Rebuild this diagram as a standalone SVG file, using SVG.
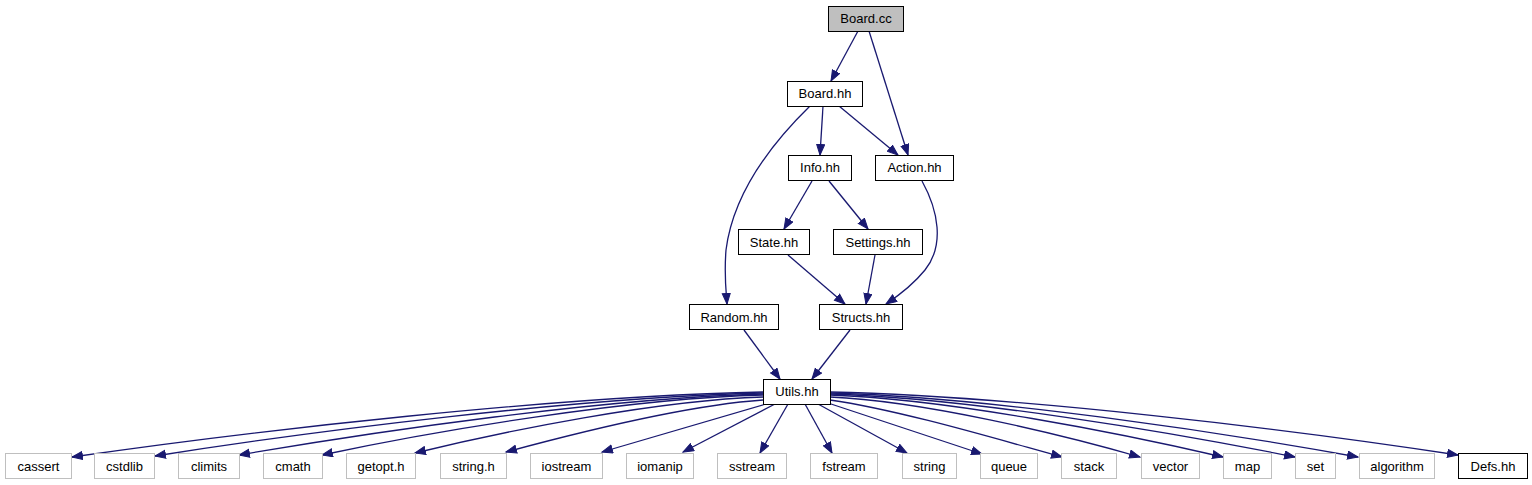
<svg xmlns="http://www.w3.org/2000/svg" width="1532" height="485" viewBox="0 0 1532 485">
<style>
.n rect{fill:#fff;stroke:#000;stroke-width:1}
.x rect{fill:#fff;stroke:#bfbfbf;stroke-width:1}
.r rect{fill:#bfbfbf;stroke:#000;stroke-width:1}
text{font-family:"Liberation Sans",Arial,sans-serif;font-size:13px;fill:#000;text-anchor:middle}
.e path{fill:none;stroke:#191970;stroke-width:1.3;marker-end:url(#ah)}
</style>
<defs>
<marker id="ah" markerUnits="userSpaceOnUse" markerWidth="13" markerHeight="10" refX="11" refY="4.5" orient="auto">
<path d="M0.5,0.5 L11,4.5 L0.5,8.5 z" fill="#191970" stroke="#191970" stroke-width="1"/>
</marker>
</defs>
<rect width="1532" height="485" fill="#fff"/>
<g id="edges" class="e">
<path d="M858,31 L831,81"/>
<path d="M869,31 L908,155"/>
<path d="M823,106 L820,155"/>
<path d="M839,106 L898,155"/>
<path d="M810,106 C770,145 733,195 726,250 C724,275 726,290 727,304"/>
<path d="M812,181 L784,229"/>
<path d="M829,181 L868,229"/>
<path d="M922,181 C938,210 945,245 925,270 C912,286 898,296 886,304"/>
<path d="M788,255 L845,304"/>
<path d="M875,255 L866,304"/>
<path d="M744,330 L780,379"/>
<path d="M850,330 L812,379"/>
<path d="M763,392 C556,396 252,431 72,457"/>
<path d="M763,393 C581,397 313,431 155,456"/>
<path d="M763,394 C606,398 379,431 239,455"/>
<path d="M763,395 C631,398 434,431 322,455"/>
<path d="M763,397 C659,400 505,431 415,453"/>
<path d="M763,400 C690,405 580,432 506,452"/>
<path d="M766,404 L602,452"/>
<path d="M775,404 L683,452"/>
<path d="M788,404 L760,453"/>
<path d="M805,404 L832,453"/>
<path d="M818,404 L907,453"/>
<path d="M828,403 L982,454"/>
<path d="M830,400 C900,410 1000,440 1062,457"/>
<path d="M830,397 C923,401 1060,434 1140,457"/>
<path d="M830,395 C948,399 1120,433 1223,457"/>
<path d="M830,394 C969,398 1170,432 1295,457"/>
<path d="M830,393 C988,397 1220,432 1358,457"/>
<path d="M830,392 C1018,396 1295,430 1458,455"/>
</g>
<g id="n_boardcc" class="r"><rect x="828.5" y="6.5" width="75" height="25"/><text x="866" y="23">Board.cc</text></g>
<g id="n_boardhh" class="n"><rect x="787.5" y="81.5" width="75" height="25"/><text x="825" y="98">Board.hh</text></g>
<g id="n_infohh" class="n"><rect x="788.5" y="155.5" width="63" height="25"/><text x="820" y="172">Info.hh</text></g>
<g id="n_actionhh" class="n"><rect x="875.5" y="155.5" width="78" height="25"/><text x="914.5" y="172">Action.hh</text></g>
<g id="n_statehh" class="n"><rect x="738.5" y="229.5" width="71" height="25"/><text x="774" y="246.5">State.hh</text></g>
<g id="n_settingshh" class="n"><rect x="833.5" y="229.5" width="89" height="25"/><text x="878" y="246.5">Settings.hh</text></g>
<g id="n_randomhh" class="n"><rect x="689.5" y="304.5" width="89" height="25"/><text x="734" y="321.5">Random.hh</text></g>
<g id="n_structshh" class="n"><rect x="819.5" y="304.5" width="83" height="25"/><text x="861" y="321.5">Structs.hh</text></g>
<g id="n_utilshh" class="n"><rect x="763.5" y="379.5" width="67" height="25"/><text x="797" y="396">Utils.hh</text></g>
<g id="n_cassert" class="x"><rect x="5.5" y="453.5" width="66" height="25"/><text x="38.5" y="470.5">cassert</text></g>
<g id="n_cstdlib" class="x"><rect x="94.5" y="453.5" width="60" height="25"/><text x="124.5" y="470.5">cstdlib</text></g>
<g id="n_climits" class="x"><rect x="178.5" y="453.5" width="61" height="25"/><text x="209" y="470.5">climits</text></g>
<g id="n_cmath" class="x"><rect x="263.5" y="453.5" width="59" height="25"/><text x="293" y="470.5">cmath</text></g>
<g id="n_getopt" class="x"><rect x="346.5" y="453.5" width="69" height="25"/><text x="381" y="470.5">getopt.h</text></g>
<g id="n_stringh" class="x"><rect x="440.5" y="453.5" width="66" height="25"/><text x="473.5" y="470.5">string.h</text></g>
<g id="n_iostream" class="x"><rect x="530.5" y="453.5" width="72" height="25"/><text x="566.5" y="470.5">iostream</text></g>
<g id="n_iomanip" class="x"><rect x="626.5" y="453.5" width="67" height="25"/><text x="660" y="470.5">iomanip</text></g>
<g id="n_sstream" class="x"><rect x="717.5" y="453.5" width="69" height="25"/><text x="752" y="470.5">sstream</text></g>
<g id="n_fstream" class="x"><rect x="810.5" y="453.5" width="67" height="25"/><text x="844" y="470.5">fstream</text></g>
<g id="n_string" class="x"><rect x="902.5" y="453.5" width="54" height="25"/><text x="929.5" y="470.5">string</text></g>
<g id="n_queue" class="x"><rect x="980.5" y="453.5" width="57" height="25"/><text x="1009" y="470.5">queue</text></g>
<g id="n_stack" class="x"><rect x="1061.5" y="453.5" width="55" height="25"/><text x="1089" y="470.5">stack</text></g>
<g id="n_vector" class="x"><rect x="1141.5" y="453.5" width="58" height="25"/><text x="1170.5" y="470.5">vector</text></g>
<g id="n_map" class="x"><rect x="1223.5" y="453.5" width="48" height="25"/><text x="1247.5" y="470.5">map</text></g>
<g id="n_set" class="x"><rect x="1295.5" y="453.5" width="40" height="25"/><text x="1315.5" y="470.5">set</text></g>
<g id="n_algorithm" class="x"><rect x="1359.5" y="453.5" width="75" height="25"/><text x="1397" y="470.5">algorithm</text></g>
<g id="n_defshh" class="n"><rect x="1458.5" y="453.5" width="69" height="25"/><text x="1493" y="470.5">Defs.hh</text></g>
</svg>
